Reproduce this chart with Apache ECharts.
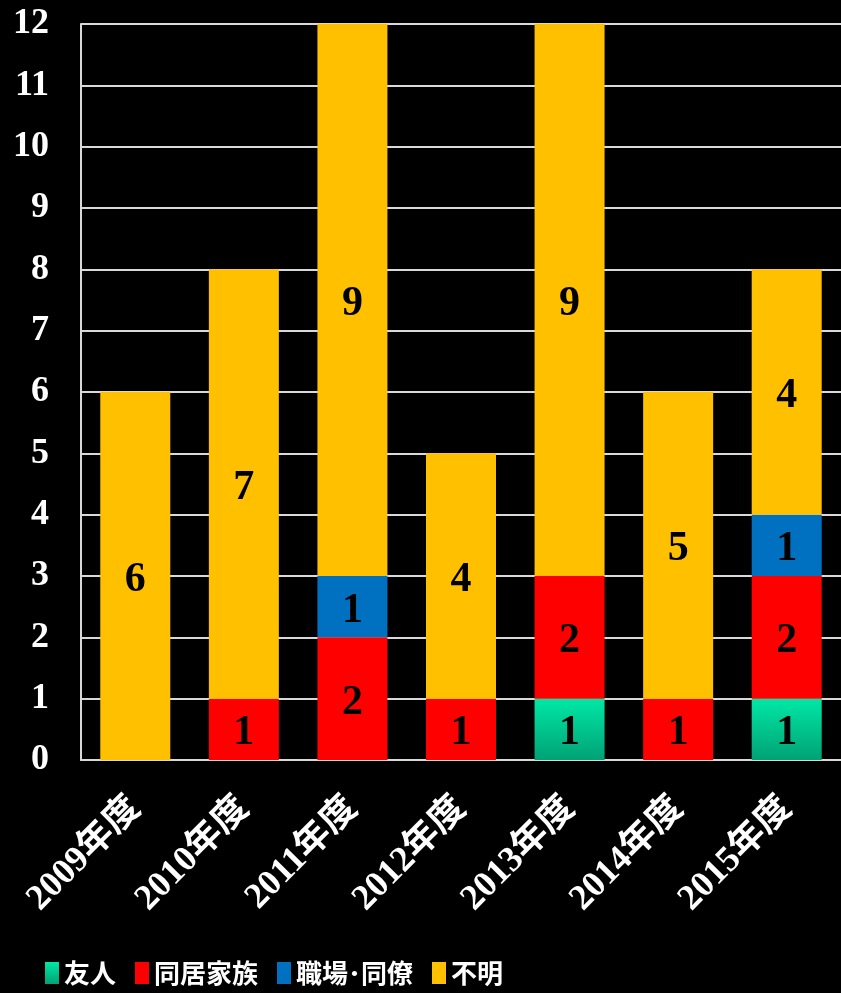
<!DOCTYPE html>
<html>
<head>
<meta charset="utf-8">
<script src="https://cdn.jsdelivr.net/npm/echarts@6/dist/echarts.min.js"></script>
<style>
html,body{margin:0;padding:0;background:#000;}
#main{width:841px;height:993px;}
</style>
</head>
<body>
<div id="main"></div>
<script>
var categories = ['2009年度','2010年度','2011年度','2012年度','2013年度','2014年度','2015年度'];
var friends = [0,0,0,0,1,0,1];
var family = [0,1,2,1,2,1,2];
var coworkers = [0,0,1,0,0,0,1];
var unknown = [6,7,9,4,9,5,4];
var yTicks = [0,1,2,3,4,5,6,7,8,9,10,11,12];

var serif = '"Liberation Serif","Times New Roman","Noto Sans CJK JP",serif';
var gothic = '"Noto Sans CJK JP","Noto Sans",sans-serif';

var labelStyle = {
  show: true,
  position: 'inside',
  offset: [0, 4],
  color: '#000',
  fontFamily: serif,
  fontWeight: 'bold',
  fontSize: 42,
  formatter: function(p){ return p.value ? String(p.value) : ''; }
};

function mk(name, data, color){
  return {
    name: name, type: 'bar', stack: 'total', data: data,
    barWidth: 70,
    itemStyle: {color: color},
    label: labelStyle,
    emphasis: {disabled: true}
  };
}

var chart = echarts.init(document.getElementById('main'), null, {renderer:'canvas'});
chart.setOption({
  backgroundColor: '#000',
  animation: false,
  grid: {left: 81, right: 0, top: 24, bottom: 233, containLabel: false},
  legend: {
    left: 40, top: 955,
    itemWidth: 14, itemHeight: 22, itemGap: 19,
    icon: 'rect',
    textStyle: {color: '#fff', fontFamily: gothic, fontWeight: 'bold', fontSize: 26},
    data: ['友人','同居家族','職場･同僚','不明']
  },
  xAxis: {
    type: 'category', data: categories,
    axisLine: {show: true, lineStyle: {color: '#d9d9d9', width: 2}},
    axisTick: {show: false},
    axisLabel: {
      rotate: 45, color: '#fff', fontFamily: serif, fontWeight: 'bold', fontSize: 36,
      margin: 43, interval: 0
    }
  },
  yAxis: {
    type: 'value', min: yTicks[0], max: yTicks[yTicks.length-1], interval: 1,
    axisLine: {show: true, lineStyle: {color: '#d9d9d9', width: 2}},
    axisTick: {show: false},
    splitLine: {show: true, lineStyle: {color: '#d9d9d9', width: 2}},
    axisLabel: {color: '#fff', fontFamily: serif, fontWeight: 'bold', fontSize: 36, margin: 32}
  },
  series: [
    mk('友人', friends, new echarts.graphic.LinearGradient(0,0,0,1,[{offset:0,color:'#00E8A6'},{offset:1,color:'#00A274'}])),
    mk('同居家族', family, '#FF0000'),
    mk('職場･同僚', coworkers, '#0070C0'),
    mk('不明', unknown, '#FFC000')
  ]
});
</script>
</body>
</html>
